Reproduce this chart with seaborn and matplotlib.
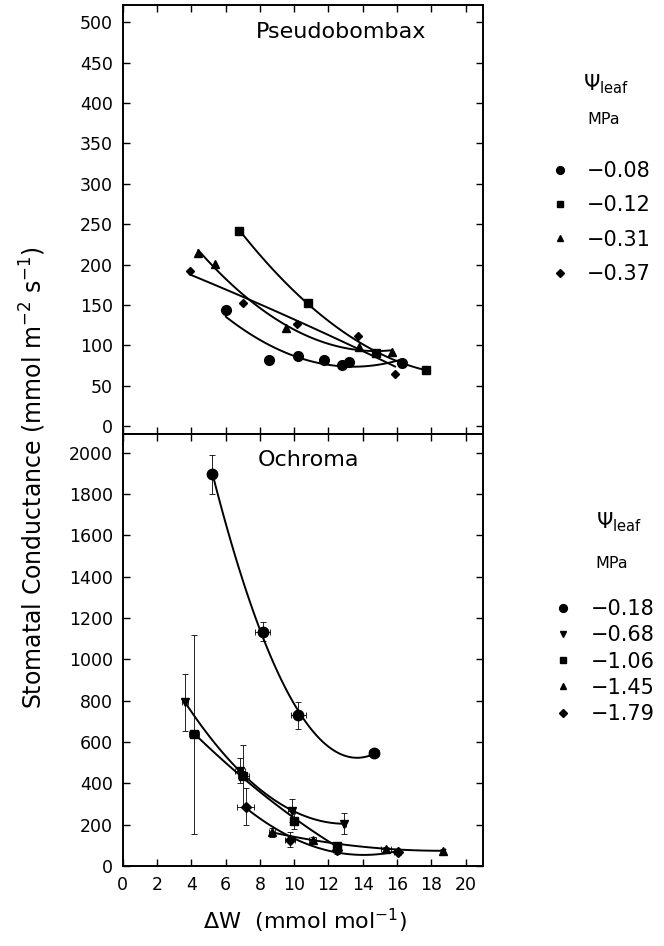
import numpy as np
import seaborn as sns
import matplotlib
matplotlib.use('Agg')
import matplotlib.pyplot as plt
from matplotlib.lines import Line2D

# Pseudobombax (upper panel), leaf water potential in MPa
pb_labels = ['\u22120.08', '\u22120.12', '\u22120.31', '\u22120.37']
pb_markers = ['o', 's', '^', 'D']
pb_sizes = [7, 5.5, 6, 4.5]
pb_x = [
    [6.0, 8.5, 10.2, 11.75, 12.8, 13.2, 16.3],
    [6.8, 10.8, 14.8, 17.7],
    [4.4, 5.4, 9.5, 13.8, 15.7],
    [3.9, 7.0, 10.15, 13.7, 15.9],
]
pb_y = [
    [144, 82, 87, 82, 76, 80, 78],
    [242, 153, 90, 70],
    [214, 201, 121, 98, 92],
    [192, 153, 127, 111, 65],
]

# Ochroma (lower panel)
oc_labels = ['\u22120.18', '\u22120.68', '\u22121.06', '\u22121.45', '\u22121.79']
oc_markers = ['o', 'v', 's', '^', 'D']
oc_sizes = [7.5, 6, 5.5, 6, 5]
oc_x = [
    [5.22, 8.15, 10.25, 14.64],
    [3.63, 6.84, 9.86, 12.92],
    [4.17, 7.04, 10.0, 12.5],
    [8.7, 11.07, 15.35, 18.7],
    [7.17, 9.75, 12.47, 16.05],
]
oc_y = [
    [1894, 1134, 729, 545],
    [791, 460, 267, 205],
    [636, 436, 219, 98],
    [162, 127, 82, 74],
    [287, 127, 79, 69],
]
oc_yerr = [
    [95, 45, 65, 15],
    [140, 60, 55, 50],
    [480, 150, 40, 20],
    [20, 15, 10, 8],
    [90, 35, 20, 10],
]
oc_xerr = [
    [0.2, 0.45, 0.45, 0.3],
    [0.2, 0.3, 0.2, 0.1],
    [0.3, 0.3, 0.2, 0.2],
    [0.2, 0.2, 0.3, 0.1],
    [0.5, 0.3, 0.2, 0.2],
]

sns.set_style('ticks')
plt.rcParams['font.family'] = ['DejaVu Sans']
plt.rcParams['mathtext.fontset'] = 'dejavusans'
plt.rcParams['text.color'] = 'black'
plt.rcParams['axes.labelcolor'] = 'black'
plt.rcParams['xtick.color'] = 'black'
plt.rcParams['ytick.color'] = 'black'

fig = plt.figure(figsize=(6.64, 9.46), dpi=100)
ax1 = fig.add_axes([0.185, 0.541, 0.542, 0.4535])
ax2 = fig.add_axes([0.185, 0.0846, 0.542, 0.4567])


def style_axes(ax):
    for s in ax.spines.values():
        s.set_linewidth(1.4)
        s.set_color('black')
    ax.tick_params(direction='in', top=True, right=True, length=5, width=1,
                   labelsize=12.5, colors='black', pad=7)
    ax.set_xlim(0, 21)
    ax.set_xticks(np.arange(0, 21, 2))
    ax.set_xlabel('')
    ax.set_ylabel('')


# upper panel
for i in range(len(pb_labels)):
    sns.regplot(x=np.array(pb_x[i]), y=np.array(pb_y[i]), order=2, ci=None,
                scatter=False, ax=ax1, color='black', line_kws={'lw': 1.4})
    ax1.plot(pb_x[i], pb_y[i], linestyle='none', marker=pb_markers[i],
             markersize=pb_sizes[i], color='black')
style_axes(ax1)
ax1.set_ylim(-10, 521)
ax1.set_yticks(np.arange(0, 501, 50))
ax1.tick_params(labelbottom=False)
ax1.text(0.37, 0.962, 'Pseudobombax', transform=ax1.transAxes, fontsize=16,
         va='top', ha='left')

# lower panel
for i in range(len(oc_labels)):
    sns.regplot(x=np.array(oc_x[i]), y=np.array(oc_y[i]), order=2, ci=None,
                scatter=False, ax=ax2, color='black', line_kws={'lw': 1.4})
    ax2.errorbar(oc_x[i], oc_y[i], yerr=oc_yerr[i], xerr=oc_xerr[i],
                 fmt=oc_markers[i], markersize=oc_sizes[i], color='black',
                 ecolor='black', elinewidth=0.6, capsize=2, capthick=0.6)
style_axes(ax2)
ax2.set_ylim(0, 2090)
ax2.set_yticks(np.arange(0, 2001, 200))
ax2.text(0.375, 0.962, 'Ochroma', transform=ax2.transAxes, fontsize=16,
         va='top', ha='left')

# axis labels
fig.text(0.05, 0.495, 'Stomatal Conductance (mmol m$^{-2}$ s$^{-1}$)',
         rotation=90, ha='center', va='center', fontsize=17)
fig.text(0.46, 0.027, '\u0394W  (mmol mol$^{-1}$)', ha='center', va='center',
         fontsize=16)

# legends
fig.text(0.878, 1 - 84 / 946, r'$\Psi_{\mathrm{leaf}}$', fontsize=15,
         ha='left', va='center')
fig.text(0.884, 1 - 119 / 946, 'MPa', fontsize=11.5, ha='left', va='center')
h1 = [Line2D([], [], linestyle='none', marker=m, markersize=s * 0.8, color='black')
      for m, s in zip(pb_markers, pb_sizes)]
ax1.legend(h1, pb_labels, loc='upper left', bbox_to_anchor=(0.831, 1 - 161 / 946),
           bbox_transform=fig.transFigure, frameon=False, fontsize=15,
           handlelength=0.8, handletextpad=0.9, labelspacing=0.69,
           borderaxespad=0, borderpad=0)

fig.text(0.898, 1 - 522 / 946, r'$\Psi_{\mathrm{leaf}}$', fontsize=15,
         ha='left', va='center')
fig.text(0.896, 1 - 563 / 946, 'MPa', fontsize=11.5, ha='left', va='center')
h2 = [Line2D([], [], linestyle='none', marker=m, markersize=s * 0.75, color='black')
      for m, s in zip(oc_markers, oc_sizes)]
ax2.legend(h2, oc_labels, loc='upper left', bbox_to_anchor=(0.836, 1 - 599 / 946),
           bbox_transform=fig.transFigure, frameon=False, fontsize=15,
           handlelength=0.8, handletextpad=0.9, labelspacing=0.3,
           borderaxespad=0, borderpad=0)

fig.savefig('out.png', dpi=100)
